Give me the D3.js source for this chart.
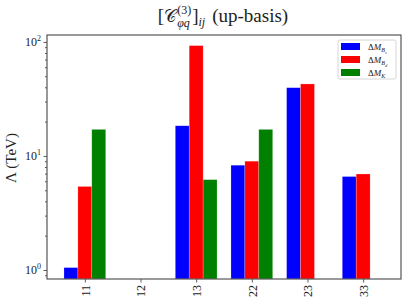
<!DOCTYPE html>
<html>
<head>
<meta charset="utf-8">
<script src="https://cdn.jsdelivr.net/npm/d3@7/dist/d3.min.js"></script>
<style>
  body { margin: 0; background: #fff; }
</style>
</head>
<body>
<div id="chart"></div>
<script>
// categories (ij indices) and the bound on Lambda for each observable
var categories = ['11', '12', '13', '22', '23', '33'];
var bsValues = [1.05, null, 18.4, 8.3, 39.7, 6.6];
var bdValues = [5.4, null, 92.8, 9.0, 42.8, 6.95];
var kValues = [17.1, null, 6.2, 17.1, null, null];
var seriesLabels = [['B', 's'], ['B', 'd'], ['K', '']];
var seriesColors = ['blue', 'red', 'green'];
var yMajorTicks = [1, 10, 100];
var yMinorTicks = [0.9, 2, 3, 4, 5, 6, 7, 8, 9, 20, 30, 40, 50, 60, 70, 80, 90];

var FONT = 'Liberation Serif';
var margin = {top: 35, right: 9, bottom: 26, left: 47};
var width = 410 - margin.left - margin.right;
var height = 305 - margin.top - margin.bottom;

var svg = d3.select('#chart').append('svg')
    .attr('width', 410)
    .attr('height', 305)
    .attr('font-family', FONT);

var g = svg.append('g')
    .attr('transform', 'translate(' + margin.left + ',' + margin.top + ')');

var x = d3.scaleLinear().domain([-0.68, categories.length - 0.32]).range([0, width]);
var y = d3.scaleLog().domain([0.834, 115]).range([height, 0]);

var barW = 0.25;
var series = [bsValues, bdValues, kValues];

// bars
series.forEach(function(vals, si) {
  g.selectAll('.bar' + si)
    .data(vals.map(function(v, i) { return {i: i, v: v}; }).filter(function(d) { return d.v != null; }))
    .enter().append('rect')
      .attr('x', function(d) { return x(d.i + (si - 1) * barW - barW / 2); })
      .attr('width', function() { return x(barW) - x(0); })
      .attr('y', function(d) { return y(d.v); })
      .attr('height', function(d) { return height - y(d.v); })
      .attr('fill', seriesColors[si])
      .attr('stroke', 'rgba(255,255,255,0.35)')
      .attr('stroke-width', 0.6);
});

// y axis: minor ticks
var yMinor = g.append('g')
    .call(d3.axisLeft(y).tickValues(yMinorTicks).tickSize(2).tickFormat(''));
// major ticks
var yMajor = g.append('g')
    .call(d3.axisLeft(y).tickValues(yMajorTicks).tickSize(3.5).tickFormat(''));
[yMinor, yMajor].forEach(function(ax) {
  ax.select('.domain').remove();
  ax.selectAll('line').attr('stroke', '#333').attr('stroke-width', 0.8);
});

// major labels as 10^n
yMajorTicks.forEach(function(v) {
  var t = g.append('text')
      .attr('x', -6)
      .attr('y', y(v) + 4)
      .attr('text-anchor', 'end')
      .attr('font-family', FONT)
      .attr('font-size', 12)
      .attr('fill', '#222');
  t.append('tspan').text('10');
  t.append('tspan').attr('dy', -5).attr('font-size', 8).text(Math.round(Math.log10(v)));
});

// x axis
var xAxis = g.append('g')
    .attr('transform', 'translate(0,' + height + ')')
    .call(d3.axisBottom(x).tickValues(d3.range(categories.length)).tickSize(3.5)
      .tickFormat(function(i) { return categories[i]; }));
xAxis.select('.domain').remove();
xAxis.selectAll('line').attr('stroke', '#333').attr('stroke-width', 0.8);
xAxis.selectAll('text')
    .attr('transform', 'rotate(-90)')
    .attr('text-anchor', 'end')
    .attr('x', -6)
    .attr('y', 0)
    .attr('dy', '0.35em')
    .attr('font-family', FONT)
    .attr('font-size', 12)
    .attr('fill', '#222');

// frame
g.append('rect')
    .attr('width', width)
    .attr('height', height)
    .attr('fill', 'none')
    .attr('stroke', '#555')
    .attr('stroke-width', 1.2);

// y label
svg.append('text')
    .attr('transform', 'translate(16,' + (margin.top + height / 2 + 1) + ') rotate(-90)')
    .attr('text-anchor', 'middle')
    .attr('font-family', FONT)
    .attr('font-size', 15)
    .attr('fill', '#222')
    .text('Λ (TeV)');

// title, built piece by piece then centred over the axes
var tg = svg.append('g');
var cx = 0;
function piece(str, dy, size, italic, advance) {
  var t = tg.append('text')
      .attr('x', cx)
      .attr('y', dy)
      .attr('font-family', FONT)
      .attr('font-size', size)
      .attr('font-style', italic ? 'italic' : 'normal')
      .attr('fill', '#222')
      .text(str);
  var w = t.node().getComputedTextLength();
  if (advance !== false) cx += w;
  return w;
}
piece('[', 0, 19);
piece('𝒞', 0, 17);
cx += 1;
var wSup = piece('(3)', -8, 12, false, false);
var wSub = piece('φq', 5, 12, true, false);
cx += Math.max(wSup, wSub) + 1;
piece(']', 0, 19);
piece('ij', 4, 12, true);
cx += 7;
piece('(up-basis)', 0, 19);
tg.attr('transform', 'translate(' + (margin.left + width / 2 - cx / 2 - 1) + ',22)');

// legend
var legend = svg.append('g').attr('transform', 'translate(338,40)');
legend.append('rect')
    .attr('width', 58)
    .attr('height', 39)
    .attr('rx', 2)
    .attr('fill', 'rgba(255,255,255,0.8)')
    .attr('stroke', '#ccc')
    .attr('stroke-width', 0.8);
seriesLabels.forEach(function(lab, i) {
  var row = legend.append('g').attr('transform', 'translate(3,' + (3 + i * 13) + ')');
  row.append('rect')
      .attr('width', 19)
      .attr('height', 7)
      .attr('fill', seriesColors[i]);
  var t = row.append('text')
      .attr('x', 27)
      .attr('y', 7)
      .attr('font-family', FONT)
      .attr('font-size', 9)
      .attr('fill', '#222');
  t.append('tspan').text('Δ');
  t.append('tspan').attr('font-style', 'italic').text('M');
  t.append('tspan').attr('dy', 2).attr('font-size', 6).attr('font-style', 'italic').text(lab[0]);
  if (lab[1]) {
    t.append('tspan').attr('dy', 1.5).attr('font-size', 4.5).attr('font-style', 'italic').text(lab[1]);
  }
});
</script>
</body>
</html>
